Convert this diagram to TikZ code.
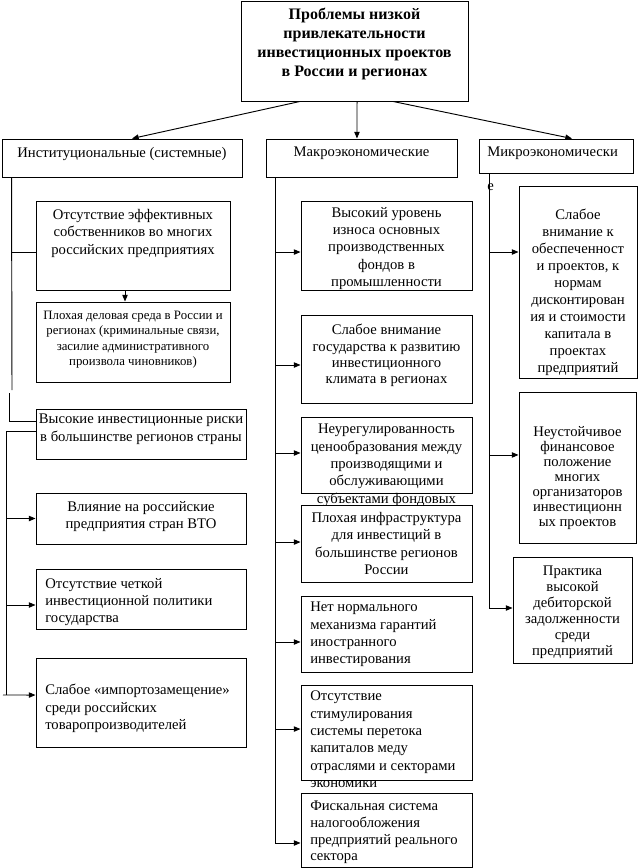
\documentclass[tikz,border=0pt]{standalone}
\usepackage{fontspec}
\setmainfont{Liberation Serif}
\usetikzlibrary{arrows.meta,fit,calc}
\newcommand\fsA{\fontsize{11}{13}\selectfont}
\newcommand\fsT{\fontsize{12}{14.25}\selectfont\bfseries}
\newcommand\fsS{\fontsize{9.6}{11.5}\selectfont}
\tikzset{
 box/.style={draw, fill=white, inner sep=0pt, line width=0.7pt},
 tc/.style={align=center, inner sep=0pt, anchor=north, font=\fsA},
 tl/.style={align=left, inner sep=0pt, anchor=north west, font=\fsA},
 ln/.style={line width=0.7pt},
 arr/.style={ln, -{Triangle[length=5pt,width=4pt]}},
}
\begin{document}
\begin{tikzpicture}[x=0.75pt,y=-0.75pt]
\useasboundingbox (0,0) rectangle (638,868);
% top
\node[box, fit={(241,1) (468,101)}] (top) {};
\node[tc, font=\fsT] (topt) at (354.5,8) {Проблемы низкой\\привлекательности\\инвестиционных проектов\\в России и регионах};
% level 2
\node[box, fit={(2,139) (242,177)}] (inst) {};
\node[tc] (instt) at (122,147) {Институциональные (системные)};
\node[box, fit={(266,139) (457,177)}] (macro) {};
\node[tc] (macrot) at (361.5,147) {Макроэкономические};
\node[box, fit={(479,139) (633,173)}] (micro) {};
\node[tl] (microt) at (487,147) {Микроэкономически\\[12pt]е};
\draw[arr] ([xshift=-40.9pt]top.south) -- ([xshift=7.5pt]inst.north);
\draw[arr] ([xshift=1.9pt]top.south) -- ([xshift=-3.4pt]macro.north);
\draw[arr] ([xshift=28.9pt]top.south) -- ([xshift=12pt]micro.north);
% left column
\node[box, fit={(36,201) (230,290)}] (l1) {};
\node[tc] (l1t) at (133,209) {Отсутствие эффективных\\собственников во многих\\российских предприятиях};
\node[box, fit={(36,302) (230,382)}] (l2) {};
\node[tc, font=\fsS] (l2t) at (133,311) {Плохая деловая среда в России и\\регионах (криминальные связи,\\засилие административного\\произвола чиновников)};
\node[box, fit={(36,409) (246,459)}] (l3) {};
\node[tc] (l3t) at (141,414) {Высокие инвестиционные риски\\в большинстве регионов страны};
\node[box, fit={(36,493) (246,544)}] (l4) {};
\node[tc] (l4t) at (141,501) {Влияние на российские\\предприятия стран ВТО};
\node[box, fit={(36,569) (246,629)}] (l5) {};
\node[tl] (l5t) at (45,578) {Отсутствие четкой\\инвестиционной политики\\государства};
\node[box, fit={(36,658) (246,747)}] (l6) {};
\node[tl] (l6t) at (45,684) {Слабое «импортозамещение»\\среди российских\\товаропроизводителей};
\coordinate (k1) at (12,390);
\coordinate (k2) at (9,393);
\coordinate (k3) at (6,431);
\coordinate (k4) at (6,695);
\coordinate (k5) at (3,695);
\draw[ln] ([xshift=7.5pt]inst.south west) -- (k1);
\draw[ln] ([yshift=-4.9pt]l1.west) -- ([yshift=-4.9pt]l1.west -| k1);
\draw[arr] ([xshift=-6pt]l1.south) -- ([xshift=-6pt]l2.north);
\draw[ln] (k2) |- ([yshift=9.75pt]l3.west);
\draw[ln] ([yshift=2.25pt]l3.west) -| (k3) -- (k4);
\draw[arr] (l4.west -| k3) -- (l4.west);
\draw[arr] ([yshift=-4.5pt]l5.west -| k3) -- ([yshift=-4.5pt]l5.west);
\draw[arr] (k5) -- ([yshift=5.6pt]l6.west);
% middle column
\node[box, fit={(301,201) (472,290)}] (m1) {};
\node[tc] (m1t) at (386.5,207) {Высокий уровень\\износа основных\\производственных\\фондов в\\промышленности};
\node[box, fit={(301,315) (472,403)}] (m2) {};
\node[tc, font=\fontsize{11}{12.3}\selectfont] (m2t) at (386.5,324) {Слабое внимание\\государства к развитию\\инвестиционного\\климата в регионах};
\node[box, fit={(301,417) (472,493)}] (m3) {};
\node[tc] (m3t) at (386.5,424) {Неурегулированность\\ценообразования между\\производящими и\\обслуживающими\\субъектами фондовых};
\node[box, fit={(301,505) (472,582)}] (m4) {};
\node[tc] (m4t) at (386.5,512) {Плохая инфраструктура\\для инвестиций в\\большинстве регионов\\России};
\node[box, fit={(301,596) (472,672)}] (m5) {};
\node[tl] (m5t) at (310,602) {Нет нормального\\механизма гарантий\\иностранного\\инвестирования};
\node[box, fit={(301,685) (472,780)}] (m6) {};
\node[tl] (m6t) at (310,691) {Отсутствие\\стимулирования\\системы перетока\\капиталов меду\\отраслями и секторами\\экономики};
\node[box, fit={(301,793) (472,867)}] (m7) {};
\node[tl, font=\fontsize{11}{12.5}\selectfont] (m7t) at (310,801) {Фискальная система\\налогообложения\\предприятий реального\\сектора};
\coordinate (mtop) at ([xshift=7.5pt]macro.south west);
\draw[arr] (mtop) |- ([yshift=-9.75pt]m7.west);
\draw[arr] ([yshift=-4.9pt]m1.west -| mtop) -- ([yshift=-4.9pt]m1.west);
\draw[arr] ([yshift=-4.5pt]m2.west -| mtop) -- ([yshift=-4.5pt]m2.west);
\draw[arr] ([yshift=1.5pt]m3.west -| mtop) -- ([yshift=1.5pt]m3.west);
\draw[arr] ([yshift=1.1pt]m4.west -| mtop) -- ([yshift=1.1pt]m4.west);
\draw[arr] ([yshift=-6pt]m5.west -| mtop) -- ([yshift=-6pt]m5.west);
\draw[arr] ([yshift=2.6pt]m6.west -| mtop) -- ([yshift=2.6pt]m6.west);
% right column
\node[box, fit={(519,186) (637,378)}] (r1) {};
\node[tc, font=\fontsize{11}{12.75}\selectfont] (r1t) at (578,209) {Слабое\\внимание к\\обеспеченност\\и проектов, к\\нормам\\дисконтирован\\ия  и стоимости\\капитала в\\проектах\\предприятий};
\node[box, fit={(519,392) (636,543)}] (r2) {};
\node[tc, font=\fontsize{11}{11.25}\selectfont] (r2t) at (577.5,426) {Неустойчивое\\финансовое\\положение\\многих\\организаторов\\инвестиционн\\ых проектов};
\node[box, fit={(513,557) (632,663)}] (r3) {};
\node[tc, font=\fontsize{11}{12}\selectfont] (r3t) at (572.5,566) {Практика\\высокой\\дебиторской\\задолженности\\среди\\предприятий};
\coordinate (rtop) at ([xshift=8.25pt]micro.south west);
\draw[arr] (rtop) |- ([yshift=1.5pt]r3.west);
\draw[arr] ([yshift=22.5pt]r1.west -| rtop) -- ([yshift=22.5pt]r1.west);
\draw[arr] ([yshift=9.4pt]r2.west -| rtop) -- ([yshift=9.4pt]r2.west);
\end{tikzpicture}
\end{document}
